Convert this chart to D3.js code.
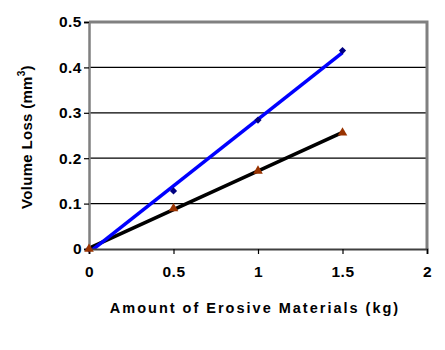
<!DOCTYPE html>
<html>
<head>
<meta charset="utf-8">
<script src="https://cdn.jsdelivr.net/npm/d3@7"></script>
<style>
  html, body { margin: 0; padding: 0; background: #fff; }
  svg { display: block; font-family: "Liberation Sans", Arial, sans-serif; }
</style>
</head>
<body>
<svg id="chart" width="445" height="350"></svg>
<script>
// Erosive material amount (kg)
const amounts = [0, 0.5, 1, 1.5];
// Volume loss (mm^3) for the two series
const seriesA = [0, 0.128, 0.284, 0.437];   // blue diamonds
const seriesB = [0, 0.089, 0.172, 0.256];   // brown triangles
const xTicks = [0, 0.5, 1, 1.5, 2];
const yTicks = [0, 0.1, 0.2, 0.3, 0.4, 0.5];

const svg = d3.select("#chart");
const plotL = 89, plotR = 427, plotT = 22, plotB = 249;

const x = d3.scaleLinear().domain([0, 2]).range([plotL, plotR]);
const y = d3.scaleLinear().domain([0, 0.5]).range([plotB, plotT]);

// Horizontal gridlines
svg.append("g").selectAll("line")
  .data(yTicks.filter(v => v > 0 && v < 0.5))
  .join("line")
  .attr("x1", plotL).attr("x2", plotR)
  .attr("y1", d => y(d)).attr("y2", d => y(d))
  .attr("stroke", "#000").attr("stroke-width", 1.2);

// Plot frame (top and right)
svg.append("path")
  .attr("d", `M${plotL},${plotT}H${plotR}V${plotB}`)
  .attr("fill", "none").attr("stroke", "#808080").attr("stroke-width", 3);

// Least-squares trend line for a series
function fit(xs, ys) {
  const n = xs.length;
  const mx = d3.mean(xs), my = d3.mean(ys);
  let sxy = 0, sxx = 0;
  for (let i = 0; i < n; i++) { sxy += (xs[i] - mx) * (ys[i] - my); sxx += (xs[i] - mx) ** 2; }
  const m = sxy / sxx, b = my - m * mx;
  return { m, b };
}

svg.append("clipPath").attr("id", "plot")
  .append("rect").attr("x", plotL).attr("y", plotT).attr("width", plotR - plotL).attr("height", plotB - plotT);

const lineGroup = svg.append("g").attr("clip-path", "url(#plot)");
[[seriesB, "#000"], [seriesA, "#0000ff"]].forEach(([ys, col]) => {
  const { m, b } = fit(amounts, ys);
  const x0 = d3.min(amounts), x1 = d3.max(amounts);
  lineGroup.append("line")
    .attr("x1", x(x0)).attr("y1", y(m * x0 + b))
    .attr("x2", x(x1)).attr("y2", y(m * x1 + b))
    .attr("stroke", col).attr("stroke-width", 3.5);
});

// Axes
const yAxis = d3.axisLeft(y).tickValues(yTicks).tickSize(5).tickFormat(d3.format("~g"));
const gy = svg.append("g").attr("transform", `translate(${plotL},0)`).call(yAxis);
gy.select(".domain").attr("stroke", "#808080").attr("stroke-width", 2.5);
gy.selectAll(".tick line").attr("stroke", "#000").attr("stroke-width", 1.2);
gy.selectAll(".tick text").attr("x", -7).attr("font-size", 15.5).attr("font-weight", "bold")
  .attr("letter-spacing", 0.5).attr("fill", "#000");

const xAxis = d3.axisBottom(x).tickValues(xTicks).tickSize(5).tickFormat(d3.format("~g"));
const gx = svg.append("g").attr("transform", `translate(0,${plotB})`).call(xAxis);
gx.select(".domain").attr("stroke", "#404040").attr("stroke-width", 2);
gx.selectAll(".tick line").attr("stroke", "#000").attr("stroke-width", 1.2);
gx.selectAll(".tick text").attr("y", 17).attr("font-size", 15.5).attr("font-weight", "bold")
  .attr("letter-spacing", 0.5).attr("fill", "#000");

// Markers
const marks = svg.append("g");
marks.selectAll("path.a").data(amounts.map((a, i) => [a, seriesA[i]]))
  .join("path").attr("class", "a")
  .attr("d", d3.symbol(d3.symbolSquare, 26))
  .attr("transform", d => `translate(${x(d[0])},${y(d[1])}) rotate(45)`)
  .attr("fill", "#000080");
marks.selectAll("path.b").data(amounts.map((a, i) => [a, seriesB[i]]))
  .join("path").attr("class", "b")
  .attr("d", d3.symbol(d3.symbolTriangle, 40))
  .attr("transform", d => `translate(${x(d[0])},${y(d[1])})`)
  .attr("fill", "#993300");

// Axis titles
svg.append("text")
  .attr("x", 255).attr("y", 313)
  .attr("text-anchor", "middle")
  .attr("font-size", 14.5).attr("font-weight", "bold")
  .attr("letter-spacing", 2)
  .text("Amount of Erosive Materials (kg)");

const yt = svg.append("text")
  .attr("transform", "translate(32,137) rotate(-90)")
  .attr("text-anchor", "middle")
  .attr("font-size", 15).attr("font-weight", "bold")
  .attr("letter-spacing", 0.3);
yt.append("tspan").text("Volume Loss (mm");
yt.append("tspan").attr("font-size", 10).attr("dy", -7).text("3");
yt.append("tspan").attr("dy", 7).text(")");
</script>
</body>
</html>
